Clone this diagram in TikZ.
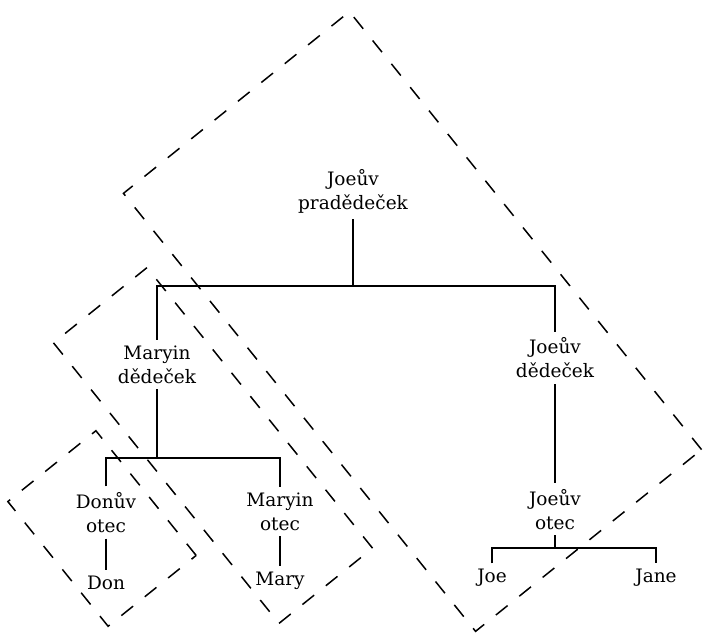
\documentclass[tikz,border=0pt]{standalone}
\usepackage{fontspec}
\setmainfont{DejaVu Serif}
\usepackage{tikz}
\usetikzlibrary{positioning}
\tikzstyle{person} = [align=center, inner sep=0pt, outer sep=6pt, font=\fontsize{18.5}{24}\selectfont]
\tikzstyle{line} = [line width=2.2pt]
\tikzstyle{group} = [draw, line width=1.5pt, dash pattern=on 15pt off 15pt, inner sep=0pt, rotate=-51.2]

\begin{document}
\begin{tikzpicture}[x=1pt, y=-1pt]
  \useasboundingbox (0,0) rectangle (703,636);

  % Dashed groups
  \node[group, minimum width=562pt, minimum height=290pt] (jbox) at (412.5,321.5) {};
  \node[group, minimum width=360pt, minimum height=120pt] (mbox) at (213,445.5) {};
  \node[group, minimum width=160pt, minimum height=113pt] (dbox) at (102,528.5) {};

  % People
  \node[person] (ggf) at (353,191.5) {Joeův\\pradědeček};
  \node[person] (mg) at (157,364.5) {Maryin\\dědeček};
  \node[person] (jg) at (555,358) {Joeův\\dědeček};
  \node[person] (df) at (106,512.5) {Donův\\otec};
  \node[person] (mf) at (280,511.5) {Maryin\\otec};
  \node[person, below=99pt of jg] (jf) {Joeův\\otec};
  \node[person, below=31pt of df] (don) {Don};
  \node[person, below=30pt of mf] (mary) {Mary};
  \node[person] (joe) at (492,578) {Joe};
  \node[person] (jane) at (656,578) {Jane};

  % Lines
  \coordinate (bar1) at (355,286);
  \draw[line] (ggf.south) -- (ggf.south |- bar1);
  \draw[line] (mg.north) |- (bar1) -| (jg.north);

  \coordinate (bar2) at (159,458);
  \draw[line] (mg.south) -- (mg.south |- bar2);
  \draw[line] (df.north) |- (bar2) -| (mf.north);
  \draw[line] (df.south) -- (don.north);
  \draw[line] (mf.south) -- (mary.north);

  \draw[line] (jg.south) -- (jf.north);
  \coordinate (bar3) at (555,548);
  \draw[line] (jf.south) -- (jf.south |- bar3);
  \draw[line] (joe.north) |- (bar3) -| (jane.north);
\end{tikzpicture}
\end{document}
